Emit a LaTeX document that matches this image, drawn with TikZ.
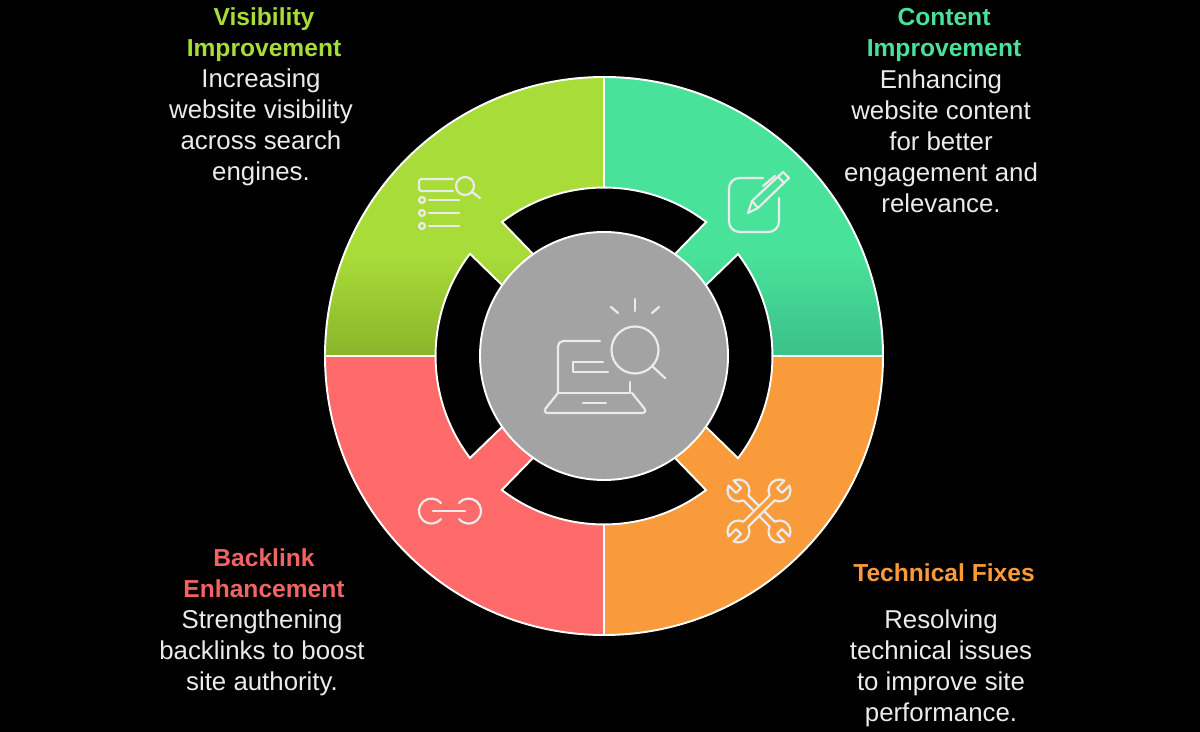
\documentclass[tikz,border=0pt]{standalone}
\usepackage{fontspec}
\setmainfont{Liberation Sans}
\definecolor{visgreen}{HTML}{A8DC38}
\definecolor{visdark}{HTML}{8AB42C}
\definecolor{contteal}{HTML}{48E29B}
\definecolor{contdark}{HTML}{3CC088}
\definecolor{techorange}{HTML}{F99A3B}
\definecolor{backred}{HTML}{FF6B6B}
\definecolor{backtext}{HTML}{F06464}
\definecolor{hubgray}{HTML}{A3A3A3}
\tikzset{
	outline/.style={draw=white, line width=1.1pt},
	iconline/.style={draw=white!92!black, line width=1.25pt, line cap=round, line join=round},
	headtext/.style={inner sep=0pt, align=center, font=\fontsize{14}{17.6}\selectfont\bfseries},
	bodytext/.style={inner sep=0pt, align=center, text=white!92!black, font=\fontsize{14.7}{17.6}\selectfont}
}
\begin{document}
\begin{tikzpicture}[x=0.02cm, y=0.02cm, yscale=-1]
	\fill[black] (0,0) rectangle (1200,732);
	\useasboundingbox (0,0) rectangle (1200,732);
	\coordinate (hub) at (604,356);
	\fill[visgreen] (hub) -- (325,356) arc[start angle=180, end angle=270, radius=279] -- cycle;
	\fill[contteal] (hub) -- (604,77) arc[start angle=270, end angle=360, radius=279] -- cycle;
	\begin{scope}
		\clip (hub) -- (325,356) arc[start angle=180, end angle=270, radius=279] -- cycle;
		\shade[top color=visgreen, bottom color=visdark] (320,255) rectangle (604,356);
	\end{scope}
	\begin{scope}
		\clip (hub) -- (604,77) arc[start angle=270, end angle=360, radius=279] -- cycle;
		\shade[top color=contteal, bottom color=contdark] (604,255) rectangle (890,356);
	\end{scope}
	\draw[outline] (hub) -- (325,356) arc[start angle=180, end angle=270, radius=279] -- cycle;
	\draw[outline] (hub) -- (604,77) arc[start angle=270, end angle=360, radius=279] -- cycle;
	\draw[outline, fill=techorange] (hub) -- (883,356) arc[start angle=0, end angle=90, radius=279] -- cycle;
	\draw[outline, fill=backred] (hub) -- (604,635) arc[start angle=90, end angle=180, radius=279] -- cycle;
	\foreach \turn in {0,90,180,270}
		\draw[outline, fill=black, rotate around={\turn:(hub)}] (502,222) arc[start angle=232.7, end angle=307.3, radius=168.5] -- (675,254) -- (533,254) -- cycle;
	\node (hubdisc) at (hub) [circle, outline, fill=hubgray, inner sep=0pt, minimum size=0.02cm*248] {};

	\draw[iconline, rounded corners=3] (600,341) -- (558,341) -- (558,393);
	\draw[iconline] (630,382) -- (630,393) -- (558,393);
	\draw[iconline, rounded corners=3.5] (558,393) -- (542,413) -- (648,413) -- (632,393);
	\draw[iconline] (583,403) -- (606,403);
	\draw[iconline] (603,362) -- (573,362) -- (573,372) -- (608,372);
	\draw[iconline] (635,350) circle (23.5);
	\draw[iconline] (652,366) -- (665,378);
	\draw[iconline] (635,299) -- (635,311);
	\draw[iconline] (611,307) -- (618,313);
	\draw[iconline] (659,307) -- (652,313);

	\draw[iconline, rounded corners=1.5] (453,179) -- (419,179) -- (419,191) -- (453,191);
	\draw[iconline] (465,186) circle (9);
	\draw[iconline] (472,192) -- (480,198);
	\foreach \row in {200,213,226} {
		\draw[iconline] (422,\row) circle (3);
		\draw[iconline] (429,\row) -- (459,\row);
	}

	\draw[iconline, rounded corners=6] (763,178) -- (729,178) -- (729,232) -- (779,232) -- (779,198);
	\draw[iconline] (748,213) -- (752,201) -- (783,172) -- (789,178) -- (758,208) -- cycle;
	\draw[iconline] (752,201) -- (758,208);
	\draw[iconline] (778,176.5) -- (784,183);
	\draw[iconline] (763,186) -- (775,176);

	\foreach \turn in {45,-45}
		\draw[iconline, fill=techorange, shift={(759,511)}, rotate=\turn] (-18.6,3.5) -- (18.6,3.5) arc[start angle=161.5, end angle=18.5, radius=11] -- (29,3.5) -- (29,-3.5) -- (39.4,-3.5) arc[start angle=-18.5, end angle=-161.5, radius=11] -- (-18.6,-3.5) arc[start angle=-18.5, end angle=-161.5, radius=11] -- (-29,-3.5) -- (-29,3.5) -- (-39.4,3.5) arc[start angle=161.5, end angle=18.5, radius=11] -- cycle;

	\draw[iconline] (441,503) arc[start angle=-40, delta angle=-280, radius=12.5];
	\draw[iconline] (459,503) arc[start angle=-140, delta angle=280, radius=12.5];
	\draw[iconline] (433,511) -- (465,511);

	\node (vishead) at (264,35) [headtext, text=visgreen] {Visibility\\Improvement};
	\node (visbody) at (261,127) [bodytext] {Increasing\\website visibility\\across search\\engines.};
	\node (conthead) at (944,35) [headtext, text=contteal] {Content\\Improvement};
	\node (contbody) at (941,141) [bodytext] {Enhancing\\website content\\for better\\engagement and\\relevance.};
	\node (backhead) at (264,573) [headtext, text=backtext] {Backlink\\Enhancement};
	\node (backbody) at (262,653) [bodytext] {Strengthening\\backlinks to boost\\site authority.};
	\node (techhead) at (944,573) [headtext, text=techorange] {Technical Fixes};
	\node (techbody) at (941,668) [bodytext] {Resolving\\technical issues\\to improve site\\performance.};
\end{tikzpicture}
\end{document}
